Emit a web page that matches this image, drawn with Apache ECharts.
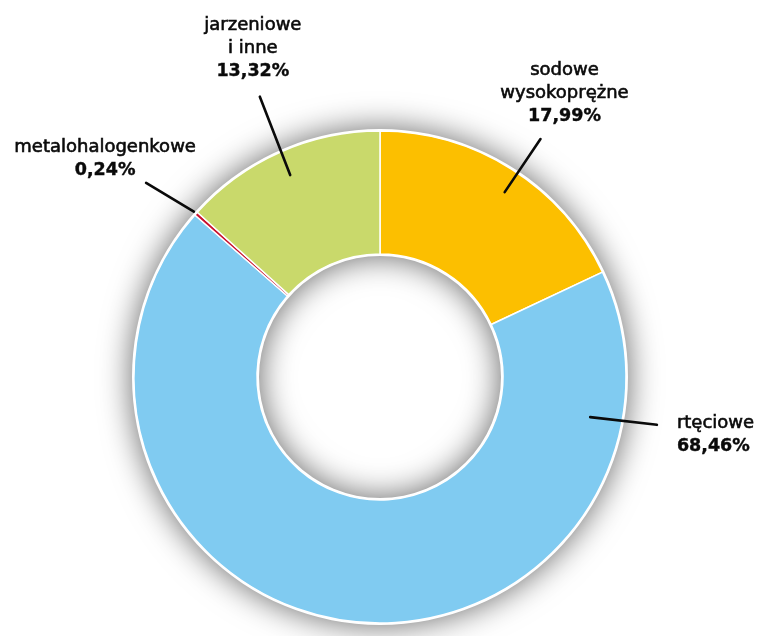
<!DOCTYPE html>
<html>
<head>
<meta charset="utf-8">
<script src="https://cdn.jsdelivr.net/npm/echarts@6/dist/echarts.min.js"></script>
<style>
  html, body { margin: 0; padding: 0; background: #ffffff; }
  #chart { width: 758px; height: 636px; }
</style>
</head>
<body>
<div id="chart"></div>
<script>
// Lamp types, clockwise from 12 o'clock
const categories = ['sodowe\nwysokoprężne', 'rtęciowe', 'metalohalogenkowe', 'jarzeniowe\ni inne'];
const shares = [17.99, 68.46, 0.24, 13.32];
const sliceColors = ['#fcbf00', '#80cbf1', '#c8102e', '#c9d96b'];

// Donut geometry (pixels)
const CX = 380, CY = 377, R_IN = 123, R_OUT = 246;

// Leader placement per slice: start/end angle (null = slice middle),
// start/end radius, and text offset from the leader's outer end
const leaderCfg = [
  { a0: 56.0, a1: 56.0, r0: 223, r1: 287, dx: 24, dy: -11, align: 'center', vAlign: 'bottom' },
  { a0: -10.8, a1: -9.8, r0: 214, r1: 281, dx: 20, dy: 10, align: 'left', vAlign: 'middle' },
  { a0: null, a1: 140.3, r0: 249, r1: 304, dx: -41, dy: -1, align: 'center', vAlign: 'bottom' },
  { a0: null, a1: 113.2, r0: 221, r1: 305, dx: -7, dy: -14, align: 'center', vAlign: 'bottom' }
];

const total = shares.reduce((a, b) => a + b, 0);
const midAngles = [];
let acc = 0;
shares.forEach(v => {
  midAngles.push(90 - (acc + v / 2) / total * 360);
  acc += v;
});

function polar(angleDeg, r) {
  const a = angleDeg * Math.PI / 180;
  return [CX + r * Math.cos(a), CY - r * Math.sin(a)];
}

function fmt(v) {
  return v.toFixed(2).replace('.', ',') + '%';
}

const sliceData = categories.map((name, i) => ({
  name: name,
  value: shares[i],
  itemStyle: { color: sliceColors[i] }
}));

const chart = echarts.init(document.getElementById('chart'), null, { renderer: 'canvas' });

chart.setOption({
  animation: false,
  backgroundColor: '#ffffff',
  series: [
    {
      // soft grey halo around the ring and inside the hole
      type: 'pie',
      silent: true,
      center: [CX, CY],
      radius: [R_IN - 2, R_OUT + 2],
      z: 1,
      label: { show: false },
      labelLine: { show: false },
      itemStyle: {
        color: '#ffffff',
        shadowBlur: 32,
        shadowColor: 'rgba(0,0,0,0.6)'
      },
      data: [{ value: 1, name: '' }]
    },
    {
      // the coloured slices
      type: 'pie',
      center: [CX, CY],
      radius: [R_IN, R_OUT],
      startAngle: 90,
      clockwise: true,
      z: 2,
      itemStyle: { borderColor: '#ffffff', borderWidth: 1.5 },
      label: { show: false },
      labelLine: { show: false },
      data: sliceData
    },
    {
      // labels and leaders, drawn above the slices
      type: 'pie',
      silent: true,
      center: [CX, CY],
      radius: [R_IN, R_OUT],
      startAngle: 90,
      clockwise: true,
      avoidLabelOverlap: false,
      z: 3,
      itemStyle: { color: 'rgba(0,0,0,0)', borderWidth: 0 },
      label: {
        show: true,
        position: 'outside',
        color: '#0a0a0a',
        fontFamily: 'DejaVu Sans',
        formatter: p => {
          const lines = p.name.split('\n').map(s => '{n|' + s + '}');
          return lines.join('\n') + '\n{v|' + fmt(p.value) + '}';
        },
        rich: {
          n: {
            fontFamily: 'DejaVu Sans', fontSize: 18, fontWeight: 'normal', color: '#0a0a0a',
            textBorderColor: '#0a0a0a', textBorderWidth: 0.6, lineHeight: 23
          },
          v: {
            fontFamily: 'DejaVu Sans', fontSize: 17.5, fontWeight: 'bold', color: '#0a0a0a',
            textBorderColor: '#0a0a0a', textBorderWidth: 0.4, lineHeight: 23
          }
        }
      },
      labelLine: {
        show: true,
        length: 10,
        length2: 0,
        lineStyle: { color: '#0a0a0a', width: 2.6, cap: 'round' }
      },
      labelLayout: params => {
        const i = params.dataIndex;
        const c = leaderCfg[i];
        const p0 = polar(c.a0 == null ? midAngles[i] : c.a0, c.r0);
        const p1 = polar(c.a1 == null ? midAngles[i] : c.a1, c.r1);
        return {
          x: p1[0] + c.dx,
          y: p1[1] + c.dy,
          align: c.align,
          verticalAlign: c.vAlign,
          labelLinePoints: [p0, p1]
        };
      },
      data: categories.map((name, i) => ({
        name: name,
        value: shares[i],
        label: { align: leaderCfg[i].align }
      }))
    }
  ]
});
</script>
</body>
</html>
